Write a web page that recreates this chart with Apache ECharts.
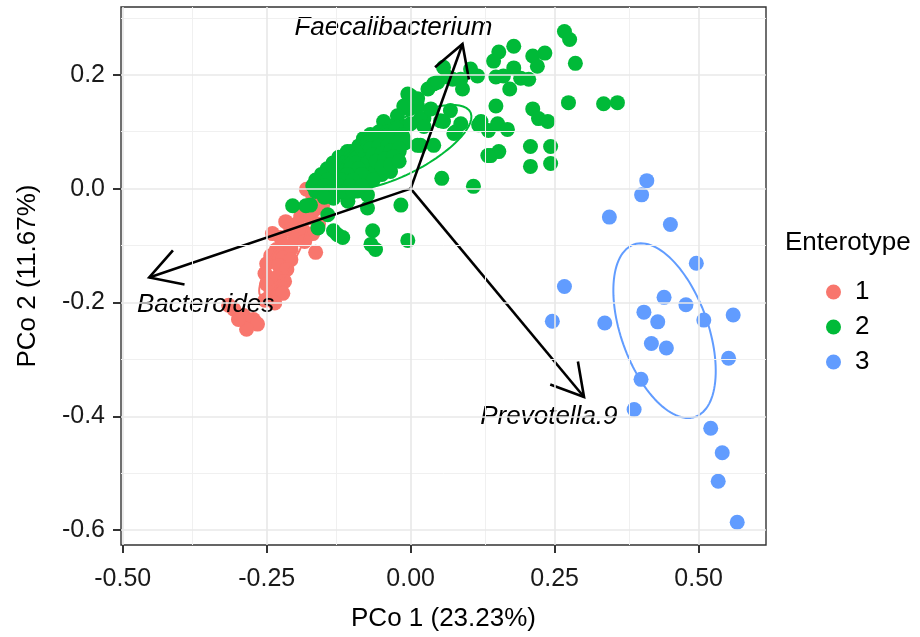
<!DOCTYPE html>
<html>
<head>
<meta charset="utf-8">
<script src="https://cdn.jsdelivr.net/npm/echarts@6/dist/echarts.min.js"></script>
<style>
  html, body { margin: 0; padding: 0; background: #fff; }
  #chart { width: 920px; height: 637px; }
</style>
</head>
<body>
<div id="chart"></div>
<script>
// tick values
const xTicks = [-0.5, -0.25, 0, 0.25, 0.5];
const xMinor = [-0.375, -0.125, 0.125, 0.375];
const yTicks = [-0.6, -0.4, -0.2, 0, 0.2];
const yMinor = [-0.5, -0.3, -0.1, 0.1, 0.3];

// PCo1, PCo2 per enterotype
const type1 = [
  [-0.181, -0.001], [-0.170, -0.013], [-0.156, -0.024], [-0.153, -0.030], [-0.167, -0.037],
  [-0.181, -0.034], [-0.191, -0.048], [-0.174, -0.051], [-0.160, -0.062], [-0.198, -0.062],
  [-0.217, -0.058], [-0.208, -0.072], [-0.188, -0.072], [-0.170, -0.079], [-0.240, -0.079],
  [-0.226, -0.086], [-0.201, -0.090], [-0.184, -0.093], [-0.220, -0.100], [-0.233, -0.107],
  [-0.208, -0.107], [-0.165, -0.112], [-0.243, -0.118], [-0.222, -0.122], [-0.208, -0.125],
  [-0.250, -0.132], [-0.229, -0.135], [-0.215, -0.142], [-0.253, -0.149], [-0.233, -0.156],
  [-0.219, -0.163], [-0.250, -0.168], [-0.226, -0.173], [-0.243, -0.184], [-0.222, -0.184],
  [-0.253, -0.196], [-0.236, -0.201], [-0.307, -0.212], [-0.290, -0.223], [-0.273, -0.230],
  [-0.266, -0.238], [-0.285, -0.247], [-0.299, -0.230], [-0.316, -0.205]
];
const type2 = [
  [0.267, 0.276], [0.276, 0.262], [0.286, 0.220], [0.179, 0.250], [0.153, 0.240],
  [0.144, 0.224], [0.212, 0.233], [0.233, 0.238], [0.220, 0.215], [0.179, 0.212],
  [0.148, 0.196], [0.161, 0.198], [0.191, 0.194], [0.205, 0.192], [0.172, 0.175],
  [0.116, 0.198], [0.104, 0.210], [0.087, 0.192], [0.057, 0.213], [0.073, 0.192],
  [0.040, 0.184], [0.030, 0.175], [0.274, 0.151], [0.335, 0.149], [0.359, 0.151],
  [0.148, 0.145], [0.212, 0.140], [0.222, 0.123], [0.238, 0.118], [0.118, 0.112],
  [0.135, 0.102], [0.151, 0.114], [0.168, 0.104], [0.208, 0.074], [0.243, 0.074],
  [0.208, 0.039], [0.243, 0.044], [0.139, 0.058], [0.153, 0.065], [0.054, 0.018],
  [0.109, 0.004], [0.069, 0.137], [0.078, 0.100], [0.052, 0.119], [0.023, 0.123],
  [0.040, 0.076], [0.017, 0.076], [0.000, 0.163], [-0.003, 0.140], [0.012, 0.145],
  [-0.017, 0.111], [-0.047, 0.088], [-0.017, 0.083], [-0.040, 0.058], [0.090, 0.175],
  [0.122, 0.118], [0.087, 0.114], [0.134, 0.058],
  [-0.005, 0.166], [0.047, 0.187], [0.064, 0.196], [0.012, 0.158], [-0.012, 0.145],
  [-0.023, 0.128], [-0.047, 0.118], [-0.035, 0.109], [0.017, 0.123], [0.023, 0.109],
  [0.057, 0.118], [0.075, 0.097], [-0.082, 0.088], [-0.057, 0.093], [-0.035, 0.093],
  [-0.012, 0.088], [0.012, 0.076], [-0.104, 0.065], [-0.082, 0.065], [-0.057, 0.071],
  [-0.035, 0.065], [-0.116, 0.053], [-0.092, 0.053], [-0.069, 0.053], [-0.047, 0.057],
  [-0.127, 0.039], [-0.104, 0.041], [-0.082, 0.036], [-0.057, 0.036], [-0.139, 0.024],
  [-0.116, 0.024], [-0.092, 0.027], [-0.069, 0.024], [-0.035, 0.030], [-0.151, 0.013],
  [-0.127, 0.010], [-0.099, 0.013], [-0.075, 0.010], [-0.052, 0.044], [-0.026, 0.053],
  [0.000, 0.114], [0.035, 0.140], [-0.064, 0.079], [-0.087, 0.044],
  [-0.156, 0.006], [-0.174, -0.029], [-0.134, 0.018], [-0.116, 0.036], [-0.099, 0.018],
  [-0.075, 0.018], [-0.066, 0.036], [-0.075, -0.011], [-0.075, -0.034], [-0.017, -0.029],
  [-0.134, -0.074], [-0.118, -0.086], [-0.066, -0.074], [-0.069, -0.098], [-0.061, -0.107],
  [-0.005, -0.091], [-0.092, -0.004], [-0.109, -0.022], [-0.134, -0.017], [-0.144, -0.046],
  [-0.205, -0.030], [-0.182, -0.030], [-0.161, -0.069], [-0.127, -0.081], [-0.160, 0.004],
  // overlapping samples inside the dense core
  [-0.070, 0.085], [-0.050, 0.085], [-0.090, 0.075], [-0.075, 0.075], [-0.045, 0.075],
  [-0.110, 0.065], [-0.095, 0.065], [-0.070, 0.065], [-0.045, 0.065], [-0.020, 0.065],
  [-0.125, 0.055], [-0.105, 0.055], [-0.080, 0.055], [-0.060, 0.055], [-0.030, 0.055],
  [-0.135, 0.045], [-0.115, 0.045], [-0.095, 0.045], [-0.075, 0.045], [-0.040, 0.045],
  [-0.145, 0.035], [-0.125, 0.035], [-0.105, 0.035], [-0.090, 0.035], [-0.060, 0.035],
  [-0.155, 0.025], [-0.130, 0.025], [-0.110, 0.025], [-0.085, 0.025], [-0.050, 0.025],
  [-0.165, 0.015], [-0.145, 0.015], [-0.120, 0.015], [-0.100, 0.015], [-0.065, 0.015],
  [-0.170, 0.005], [-0.150, 0.005], [-0.125, 0.005], [-0.105, 0.005], [-0.085, 0.005],
  [-0.165, -0.005], [-0.140, -0.005], [-0.120, -0.005], [-0.100, -0.005], [-0.150, -0.015],
  [-0.070, 0.095], [-0.055, 0.100], [-0.040, 0.100], [-0.025, 0.105], [-0.075, 0.080],
  [-0.060, 0.085], [-0.045, 0.085], [-0.030, 0.090], [-0.015, 0.095], [-0.070, 0.070],
  [-0.055, 0.075], [-0.040, 0.075], [-0.025, 0.080], [-0.010, 0.080], [-0.065, 0.060],
  [-0.050, 0.062], [-0.035, 0.066], [-0.020, 0.070], [-0.060, 0.048], [-0.045, 0.052],
  [-0.030, 0.056], [-0.050, 0.038], [-0.035, 0.042], [-0.020, 0.048]
];
const type3 = [
  [0.410, 0.014], [0.401, -0.011], [0.345, -0.050], [0.451, -0.063], [0.496, -0.131],
  [0.267, -0.172], [0.440, -0.191], [0.478, -0.204], [0.405, -0.217], [0.560, -0.222],
  [0.246, -0.233], [0.337, -0.236], [0.429, -0.234], [0.509, -0.231], [0.418, -0.272],
  [0.444, -0.280], [0.552, -0.298], [0.400, -0.335], [0.388, -0.388], [0.521, -0.421],
  [0.541, -0.464], [0.534, -0.514], [0.567, -0.586]
];

// biplot arrows: tip coordinates and label anchors
const arrowNames = ['Faecalibacterium', 'Bacteroides', 'Prevotella.9'];
const arrowTips = [[0.090, 0.254], [-0.454, -0.156], [0.301, -0.366]];
const arrowLabels = [[-0.030, 0.282], [-0.356, -0.204], [0.240, -0.400]];

const colors = ['#F8766D', '#00BA38', '#619CFF'];
const FONT = 'Liberation Sans, Arial, sans-serif';

// 1-sd covariance ellipse of a group
function sdEllipse(pts) {
  const n = pts.length;
  let mx = 0, my = 0;
  pts.forEach(p => { mx += p[0]; my += p[1]; });
  mx /= n; my /= n;
  let sxx = 0, syy = 0, sxy = 0;
  pts.forEach(p => {
    const dx = p[0] - mx, dy = p[1] - my;
    sxx += dx * dx; syy += dy * dy; sxy += dx * dy;
  });
  sxx /= (n - 1); syy /= (n - 1); sxy /= (n - 1);
  const m = (sxx + syy) / 2;
  const d = Math.sqrt(((sxx - syy) / 2) ** 2 + sxy * sxy);
  const a = Math.sqrt(m + d), b = Math.sqrt(Math.max(m - d, 0));
  const th = 0.5 * Math.atan2(2 * sxy, sxx - syy);
  const out = [];
  for (let i = 0; i <= 120; i++) {
    const t = 2 * Math.PI * i / 120;
    const u = a * Math.cos(t), v = b * Math.sin(t);
    out.push([mx + u * Math.cos(th) - v * Math.sin(th), my + u * Math.sin(th) + v * Math.cos(th)]);
  }
  return out;
}

const chart = echarts.init(document.getElementById('chart'));

const groups = [type1, type2, type3];

const gridLines = (vert, horiz, width, color) => ({
  type: 'scatter',
  data: [],
  silent: true,
  z: 0,
  markLine: {
    silent: true,
    symbol: ['none', 'none'],
    label: { show: false },
    animation: false,
    lineStyle: { color: color, width: width, type: 'solid' },
    data: vert.map(v => ({ xAxis: v })).concat(horiz.map(v => ({ yAxis: v })))
  }
});

const option = {
  animation: false,
  backgroundColor: '#fff',
  textStyle: { fontFamily: FONT },
  title: {
    text: 'Enterotype',
    left: 785,
    top: 230,
    padding: 0,
    textStyle: { fontSize: 26, fontWeight: 'normal', color: '#000', fontFamily: FONT }
  },
  legend: {
    data: ['1', '2', '3'],
    orient: 'vertical',
    left: 826,
    top: 279,
    padding: 0,
    icon: 'circle',
    itemWidth: 15,
    itemHeight: 15,
    itemGap: 9,
    textStyle: { fontSize: 26, color: '#000', fontFamily: FONT, padding: [0, 0, 0, 9] }
  },
  grid: {
    left: 121,
    right: 154,
    top: 7,
    bottom: 87,
    show: true,
    backgroundColor: '#fff',
    borderColor: '#333',
    borderWidth: 1.4
  },
  xAxis: {
    type: 'value',
    min: -0.503,
    max: 0.617,
    name: 'PCo 1 (23.23%)',
    nameLocation: 'middle',
    nameGap: 61,
    nameTextStyle: { fontSize: 26, color: '#000', fontFamily: FONT },
    axisLine: { show: false, onZero: false },
    axisTick: { show: true, length: 8, customValues: xTicks, lineStyle: { color: '#333', width: 2 } },
    axisLabel: {
      customValues: xTicks,
      formatter: v => v.toFixed(2),
      fontSize: 25,
      color: '#1a1a1a',
      margin: 22,
      fontFamily: FONT
    },
    splitLine: { show: false }
  },
  yAxis: {
    type: 'value',
    min: -0.626,
    max: 0.319,
    name: 'PCo 2 (11.67%)',
    nameLocation: 'middle',
    nameGap: 80,
    nameTextStyle: { fontSize: 26, color: '#000', fontFamily: FONT },
    axisLine: { show: false, onZero: false },
    axisTick: { show: true, length: 8, customValues: yTicks, lineStyle: { color: '#333', width: 2 } },
    axisLabel: {
      customValues: yTicks,
      formatter: v => v.toFixed(1),
      fontSize: 25,
      color: '#1a1a1a',
      margin: 16,
      fontFamily: FONT
    },
    splitLine: { show: false }
  },
  series: [
    gridLines(xMinor, yMinor, 1, '#f0f0f0'),
    gridLines(xTicks, yTicks, 1.6, '#e8e8e8'),
    ...groups.map((g, i) => ({
      name: String(i + 1),
      type: 'scatter',
      data: g,
      symbol: 'circle',
      symbolSize: 15,
      itemStyle: { color: colors[i], opacity: 1 },
      z: 2
    })),
    ...groups.map((g, i) => ({
      name: 'ellipse' + (i + 1),
      type: 'line',
      data: sdEllipse(g),
      showSymbol: false,
      symbol: 'none',
      smooth: false,
      silent: true,
      lineStyle: { color: colors[i], width: 2 },
      z: 3
    })),
    {
      type: 'custom',
      name: 'arrows',
      silent: true,
      z: 4,
      data: arrowTips.map((t, i) => [0, 0, t[0], t[1], arrowLabels[i][0], arrowLabels[i][1]]),
      renderItem: function (params, api) {
        const o = api.coord([api.value(0), api.value(1)]);
        const t = api.coord([api.value(2), api.value(3)]);
        const lp = api.coord([api.value(4), api.value(5)]);
        const ang = Math.atan2(t[1] - o[1], t[0] - o[0]);
        const L = 36, A = Math.PI / 6;
        const h1 = [t[0] - L * Math.cos(ang - A), t[1] - L * Math.sin(ang - A)];
        const h2 = [t[0] - L * Math.cos(ang + A), t[1] - L * Math.sin(ang + A)];
        return {
          type: 'group',
          children: [
            { type: 'line', shape: { x1: o[0], y1: o[1], x2: t[0], y2: t[1] }, style: { stroke: '#000', lineWidth: 2.6 } },
            { type: 'polyline', shape: { points: [h1, t, h2] }, style: { stroke: '#000', lineWidth: 2.6, fill: null } },
            {
              type: 'text',
              style: {
                text: arrowNames[params.dataIndex],
                x: lp[0], y: lp[1],
                fill: '#000',
                fontSize: 26,
                fontStyle: 'italic',
                fontFamily: FONT,
                align: 'center',
                verticalAlign: 'middle'
              }
            }
          ]
        };
      }
    }
  ]
};

chart.setOption(option);
window.addEventListener('resize', () => chart.resize());
</script>
</body>
</html>
